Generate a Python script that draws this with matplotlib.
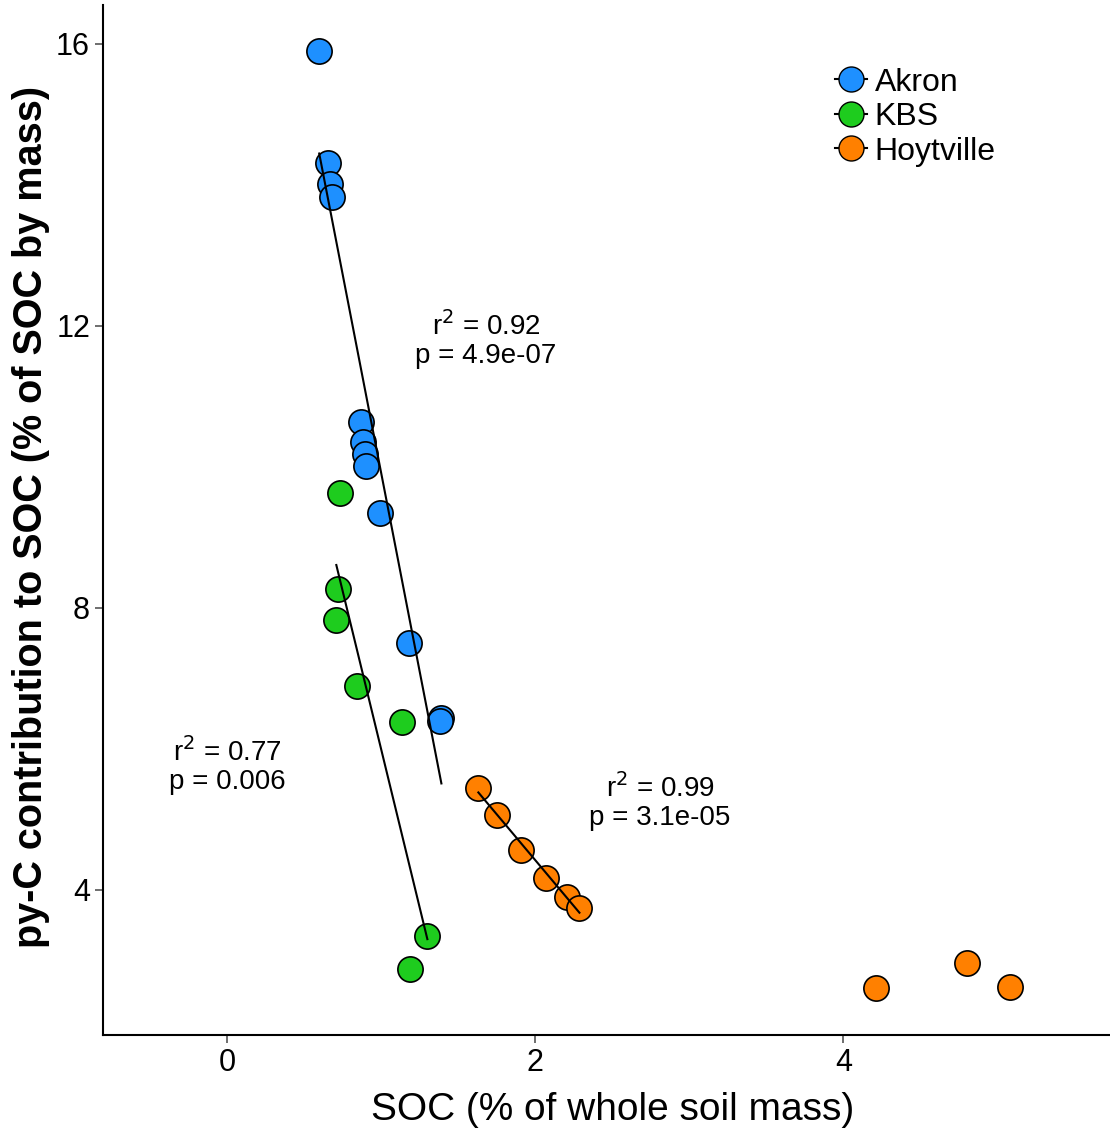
import numpy as np
import matplotlib.pyplot as plt

plt.rcParams['font.family'] = ['Liberation Sans', 'DejaVu Sans']

# SOC (% of whole soil mass) and py-C contribution (% of SOC)
akron_x = [0.597, 0.656, 0.669, 0.682, 0.870, 0.883, 0.896, 0.903, 0.994, 1.182, 1.390, 1.383]
akron_y = [15.89, 14.31, 14.01, 13.82, 10.64, 10.35, 10.18, 10.01, 9.35, 7.50, 6.44, 6.40]

kbs_x = [0.734, 0.721, 0.708, 0.844, 1.136, 1.299, 1.188]
kbs_y = [9.63, 8.27, 7.82, 6.89, 6.38, 3.35, 2.87]

hoyt_x = [1.630, 1.753, 1.909, 2.071, 2.208, 2.286, 4.214, 4.799, 5.078]
hoyt_y = [5.45, 5.06, 4.57, 4.16, 3.90, 3.74, 2.61, 2.96, 2.62]
hoyt_fit_n = 6  # regression only on the first six points

stats = {
    'Akron': ('0.92', '4.9e-07', 1.68, 11.8),
    'KBS': ('0.77', '0.006', 0.0, 5.75),
    'Hoytville': ('0.99', '3.1e-05', 2.81, 5.25),
}

colors = {'Akron': '#1E90FF', 'KBS': '#1ECC1E', 'Hoytville': '#FF8000'}

fig = plt.figure(figsize=(11.1, 11.32), dpi=100)
ax = fig.add_axes([0.093, 0.0857, 0.907, 0.91])

groups = [
    ('Akron', akron_x, akron_y, len(akron_x)),
    ('KBS', kbs_x, kbs_y, len(kbs_x)),
    ('Hoytville', hoyt_x, hoyt_y, hoyt_fit_n),
]

for name, xs, ys, n in groups:
    xs = np.array(xs)
    ys = np.array(ys)
    fx, fy = xs[:n], ys[:n]
    slope, icpt = np.polyfit(fx, fy, 1)
    xl = np.array([fx.min(), fx.max()])
    ax.plot(xl, slope * xl + icpt, color='black', lw=1.5, zorder=3)
    ax.scatter(xs, ys, s=330, color=colors[name], edgecolor='black', lw=1.2, zorder=2)
    # legend proxy: marker with line through it
    ax.plot([], [], color='black', lw=1.5, marker='o', markersize=18,
            markerfacecolor=colors[name], markeredgecolor='black', label=name)

for name, (r2, p, tx, ty) in stats.items():
    ax.text(tx, ty, 'r$^2$ = %s\np = %s' % (r2, p), ha='center', va='center',
            fontsize=20, linespacing=1.1)

ax.set_xlim(-0.805, 5.73)
ax.set_ylim(1.94, 16.55)
ax.set_xticks([0, 2, 4])
ax.set_yticks([4, 8, 12, 16])
ax.tick_params(labelsize=22, color='#555555', length=6, width=1.2)

for s in ['top', 'right']:
    ax.spines[s].set_visible(False)
for s in ['left', 'bottom']:
    ax.spines[s].set_linewidth(1.5)

fig.text(0.552, 0.019, 'SOC (% of whole soil mass)', fontsize=28,
         ha='center', va='center')
fig.text(0.028, 0.543, 'py-C contribution to SOC (% of SOC by mass)', fontsize=28.5,
         fontweight='bold', rotation=90, ha='center', va='center')

ax.legend(loc='upper right', bbox_to_anchor=(0.915, 0.967), frameon=False,
          fontsize=23, handlelength=1.0, handletextpad=0.25, labelspacing=0.14)

fig.savefig('out.png', dpi=100)
